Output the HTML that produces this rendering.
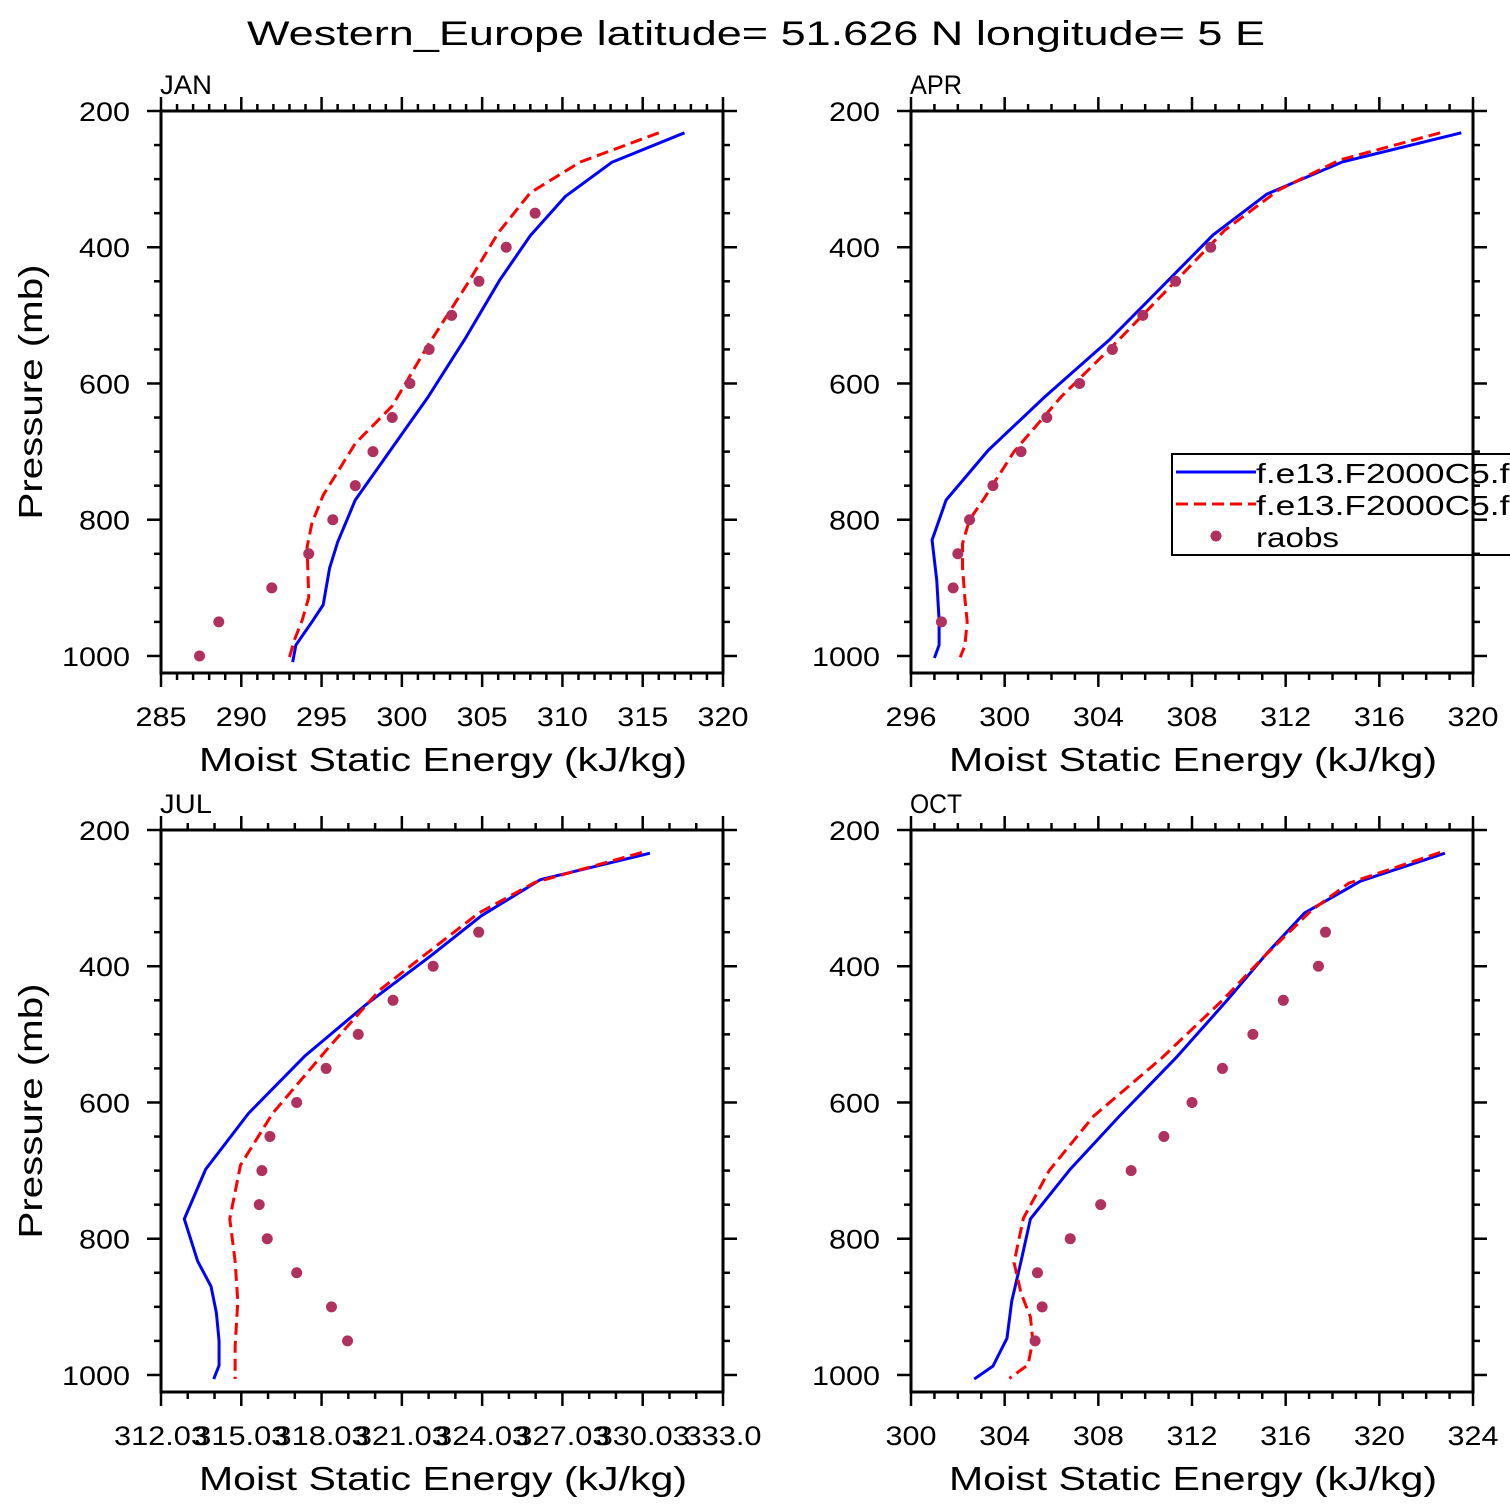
<!DOCTYPE html>
<html><head><meta charset="utf-8"><style>
html,body{margin:0;padding:0;background:#fff;width:1510px;height:1510px;overflow:hidden}
svg text{font-family:"Liberation Sans",sans-serif;fill:#000}
</style></head><body>
<svg id="c" width="1510" height="1510" viewBox="0 0 1510 1510" xmlns="http://www.w3.org/2000/svg">
<text x="756" y="45" text-anchor="middle" font-size="34" textLength="1018" lengthAdjust="spacingAndGlyphs">Western_Europe  latitude= 51.626 N longitude= 5 E</text>
</svg>
<script>
const janBlueP=[232,275,325,383,448,532,621,701,771,833,871,925,950,984,1009];
const janBlueV=[317.6,313.1,310.2,308.0,306.1,304.0,301.6,299.2,297.1,296.0,295.5,295.1,294.4,293.4,293.2];
const janRedP=[232,275,320,379,453,545,633,688,764,805,840,914,947,977,1002];
const janRedV=[316.0,311.1,308.0,306.0,304.1,301.6,299.4,297.1,295.1,294.4,294.1,294.2,293.8,293.3,293.0];
const janObsP=[350,400,450,500,550,600,650,700,750,800,850,900,950,1000];
const janObsV=[308.3,306.5,304.8,303.1,301.7,300.5,299.4,298.2,297.1,295.7,294.2,291.9,288.6,287.4];

const aprBlueP=[232,275,322,382,535,620,698,771,830,889,947,984,1003];
const aprBlueV=[319.5,314.4,311.2,308.9,304.5,301.7,299.3,297.5,296.9,297.1,297.2,297.2,297.0];
const aprRedP=[232,272,316,375,535,620,700,770,800,835,870,915,950,985,1002];
const aprRedV=[318.6,314.3,311.7,309.4,304.9,302.4,300.4,299.1,298.5,298.2,298.2,298.3,298.4,298.3,298.1];
const aprObsP=[400,450,500,550,600,650,700,750,800,850,900,950];
const aprObsV=[308.8,307.3,305.9,304.6,303.2,301.8,300.7,299.5,298.5,298.0,297.8,297.3];

const julBlueP=[234,273,326,385,456,532,616,698,771,833,870,909,950,986,1006];
const julBlueV=[330.3,326.2,324.0,322.1,319.7,317.4,315.3,313.7,312.9,313.4,313.9,314.1,314.2,314.2,314.0];
const julRedP=[233,277,322,389,435,519,616,692,771,833,892,958,1006];
const julRedV=[330.0,326.0,323.9,321.7,320.2,318.3,316.2,315.0,314.6,314.8,314.9,314.8,314.8];
const julObsP=[350,400,450,500,550,600,650,700,750,800,850,900,950];
const julObsV=[323.9,322.2,320.7,319.4,318.2,317.1,316.1,315.8,315.7,316.0,317.1,318.4,319.0];

const octBlueP=[234,275,322,381,450,535,620,698,771,833,892,946,987,1006];
const octBlueV=[322.8,319.2,316.8,315.2,313.5,311.3,308.9,306.8,305.1,304.7,304.3,304.1,303.5,302.7];
const octRedP=[233,278,318,385,450,535,620,700,770,835,880,915,950,985,1005];
const octRedV=[322.6,318.7,317.1,315.1,313.3,310.7,307.8,305.9,304.8,304.4,304.7,305.1,305.2,305.0,304.2];
const octObsP=[350,400,450,500,550,600,650,700,750,800,850,900,950];
const octObsV=[317.7,317.4,315.9,314.6,313.3,312.0,310.8,309.4,308.1,306.8,305.4,305.6,305.3];

const yTicks=[200,400,600,800,1000];
const janXTicks=["285","290","295","300","305","310","315","320"];
const aprXTicks=["296","300","304","308","312","316","320"];
const julXTicks=["312.03","315.03","318.03","321.03","324.03","327.03","330.03","333.0"];
const octXTicks=["300","304","308","312","316","320","324"];
const legendLabels=["f.e13.F2000C5.fc5_1","f.e13.F2000C5.fc5_2","raobs"];

const NS="http://www.w3.org/2000/svg";
const svg=document.getElementById('c');
function mk(tag,attrs,parent){const e=document.createElementNS(NS,tag);for(const k in attrs)e.setAttribute(k,attrs[k]);(parent||svg).appendChild(e);return e;}
function tw(s){let w=0;for(const ch of s)w+=(ch==='.')?9:17;return w;}

function panel(name,x0,y0,xmin,xmax,xTicks,majorStep,minorStep,blueP,blueV,redP,redV,obsP,obsV){
  const W=562,H=562,pmin=200,pmax=1025;
  const g=mk('g',{});
  
  
  const sx=v=>x0+(v-xmin)/(xmax-xmin)*W;
  const sy=p=>y0+(p-pmin)/(pmax-pmin)*H;
  const ticks=mk('g',{stroke:'#000','stroke-width':2.5},g);
  
  
  const nMin=Math.round((xmax-xmin)/minorStep);
  for(let i=0;i<=nMin;i++){
    const v=xmin+i*minorStep, X=sx(v);
    const major=Math.abs(((v-xmin)/majorStep)-Math.round((v-xmin)/majorStep))<1e-6;
    const L=major?14:7;
    mk('line',{x1:X,x2:X,y1:y0+H,y2:y0+H+L},ticks);
    mk('line',{x1:X,x2:X,y1:y0,y2:y0-L},ticks);
  }
  for(let p=200;p<=1000;p+=50){
    const Y=sy(p), major=(p%200===0), L=major?14:7;
    mk('line',{x1:x0,x2:x0-L,y1:Y,y2:Y},ticks);
    mk('line',{x1:x0+W,x2:x0+W+L,y1:Y,y2:Y},ticks);
  }
  const fr=mk('rect',{x:x0,y:y0,width:W,height:H,fill:'none',stroke:'#000','stroke-width':3},g);
  
  
  yTicks.forEach(p=>{
    const s=String(p);
    const t=mk('text',{x:x0-31,y:sy(p)+10,'text-anchor':'end','font-size':27,textLength:tw(s),lengthAdjust:'spacingAndGlyphs'},g);
    
    
    t.textContent=s;
  });
  xTicks.forEach((s,i)=>{
    const t=mk('text',{x:x0+i*W/(xTicks.length-1),y:y0+H+53,'text-anchor':'middle','font-size':27,textLength:tw(s),lengthAdjust:'spacingAndGlyphs'},g);
    
    
    t.textContent=s;
  });
  const xt=mk('text',{x:x0+W/2+1,y:y0+H+98,'text-anchor':'middle','font-size':33,textLength:488,lengthAdjust:'spacingAndGlyphs'},g);
  
  
  xt.textContent='Moist Static Energy (kJ/kg)';
  const pt=mk('text',{x:x0-1,y:y0-17,'font-size':27,textLength:52,lengthAdjust:'spacingAndGlyphs'},g);
  
  
  pt.textContent=name.toUpperCase();
  const bl=mk('polyline',{points:blueP.map((p,i)=>sx(blueV[i])+','+sy(p)).join(' '),fill:'none',stroke:'#0000ff','stroke-width':3,'stroke-linejoin':'round'},g);
  
  
  const rl=mk('polyline',{points:redP.map((p,i)=>sx(redV[i])+','+sy(p)).join(' '),fill:'none',stroke:'#ff0000','stroke-width':3,'stroke-dasharray':'12,6'},g);
  
  
  obsP.forEach((p,i)=>{
    const c=mk('circle',{cx:sx(obsV[i]),cy:sy(p),r:5.5,fill:'#b03060'},g);
    
    
  });
  return g;
}

panel('jan',161,111,285,320,janXTicks,5,1,janBlueP,janBlueV,janRedP,janRedV,janObsP,janObsV);
panel('jul',161,830,312.03,333.03,julXTicks,3,1,julBlueP,julBlueV,julRedP,julRedV,julObsP,julObsV);
panel('oct',911,830,300,324,octXTicks,4,1,octBlueP,octBlueV,octRedP,octRedV,octObsP,octObsV);
const lg=mk('g',{});


mk('rect',{x:1172,y:454,width:360,height:101,fill:'#fff',stroke:'#000','stroke-width':2},lg);
mk('line',{x1:1176,x2:1256,y1:472,y2:472,stroke:'#0000ff','stroke-width':3},lg);
mk('line',{x1:1176,x2:1256,y1:504,y2:504,stroke:'#ff0000','stroke-width':3,'stroke-dasharray':'12,6'},lg);
mk('circle',{cx:1216,cy:536,r:5.5,fill:'#b03060'},lg);
const legW=[330,330,83];
legendLabels.forEach((s,i)=>{
  const t=mk('text',{x:1256,y:483+i*32,'font-size':28,textLength:legW[i],lengthAdjust:'spacingAndGlyphs'},lg);
  
  
  t.textContent=s;
});
panel('apr',911,111,296,320,aprXTicks,4,1,aprBlueP,aprBlueV,aprRedP,aprRedV,aprObsP,aprObsV);
[392,1111].forEach(cy=>{
  const t=mk('text',{x:0,y:0,'text-anchor':'middle','font-size':33,textLength:255,lengthAdjust:'spacingAndGlyphs',transform:'translate(42,'+cy+') rotate(-90)'});
  
  
  t.textContent='Pressure (mb)';
});
</script>
</body></html>
